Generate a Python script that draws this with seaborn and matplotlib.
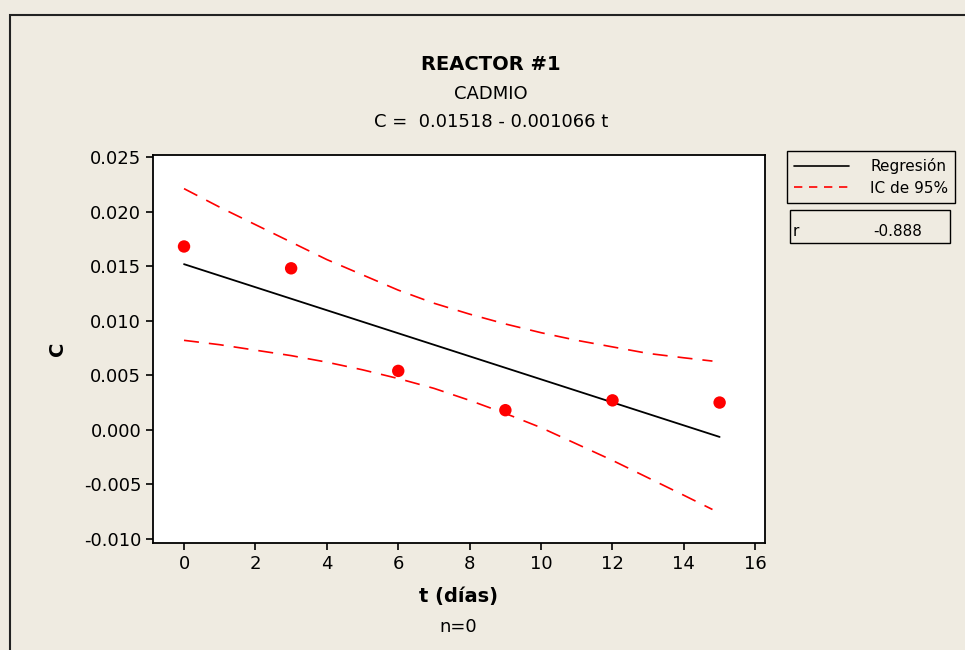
import numpy as np
import pandas as pd
import seaborn as sns
import matplotlib.pyplot as plt
from matplotlib.patches import Rectangle
from matplotlib.lines import Line2D

# datos (Minitab, grafica de linea ajustada)
t_dias = [0, 3, 6, 9, 12, 15]
c_obs = [0.0168, 0.0148, 0.0054, 0.0018, 0.0027, 0.0025]

# recta de regresion y bandas IC 95%
t_fit = [0, 15]
c_fit = [0.01518, -0.00065]
t_ic = [0, 1, 2, 3, 4, 5, 6, 7, 8, 9, 10, 11, 12, 13, 14, 14.8]
ic_sup = [0.0221, 0.0204, 0.0188, 0.0172, 0.0156, 0.0142, 0.0128, 0.0116,
          0.0106, 0.0097, 0.0089, 0.0082, 0.0076, 0.0070, 0.0066, 0.0063]
ic_inf = [0.0082, 0.0078, 0.0073, 0.0068, 0.0062, 0.0055, 0.0047, 0.0038,
          0.0027, 0.0015, 0.0002, -0.0013, -0.0028, -0.0044, -0.0060, -0.0073]

y_ticks = [-0.010, -0.005, 0.000, 0.005, 0.010, 0.015, 0.020, 0.025]
x_ticks = [0, 2, 4, 6, 8, 10, 12, 14, 16]

sns.set_style("ticks")
plt.rcParams['font.family'] = ['DejaVu Sans']
plt.rcParams['text.color'] = 'black'
plt.rcParams['axes.labelcolor'] = 'black'
plt.rcParams['xtick.color'] = 'black'
plt.rcParams['ytick.color'] = 'black'
fondo = '#EFEBE1'

fig = plt.figure(figsize=(9.65, 6.5), dpi=100, facecolor=fondo)
ax = fig.add_axes([0.1585, 0.1646, 0.6342, 0.5969])
ax.set_facecolor('white')

df_obs = pd.DataFrame({'t': t_dias, 'C': c_obs})
df_fit = pd.DataFrame({'t': t_fit, 'C': c_fit})
df_sup = pd.DataFrame({'t': t_ic, 'C': ic_sup})
df_inf = pd.DataFrame({'t': t_ic, 'C': ic_inf})

sns.lineplot(data=df_fit, x='t', y='C', ax=ax, color='black', lw=1.3)
for d in (df_sup, df_inf):
    sns.lineplot(data=d, x='t', y='C', ax=ax, color='red', lw=1.2)
for ln in ax.lines[1:]:
    ln.set_dashes((9, 6))
sns.scatterplot(data=df_obs, x='t', y='C', ax=ax, color='red', s=80,
                edgecolor='none', zorder=5)

ax.set_xlim(-0.87, 16.27)
ax.set_ylim(-0.01037, 0.02518)
ax.set_xticks(x_ticks)
ax.set_yticks(y_ticks)
ax.set_yticklabels([f'{v:.3f}' for v in y_ticks])
ax.tick_params(axis='both', labelsize=13, length=5, width=1.2, color='black')
for s in ax.spines.values():
    s.set_color('black')
    s.set_linewidth(1.3)

ax.set_xlabel('t (días)', fontsize=14, fontweight='bold', labelpad=10)
ax.set_ylabel('C', fontsize=14, fontweight='bold', labelpad=12)
fig.text(0.475, 1 - 627 / 650, 'n=0', fontsize=13, ha='center', va='center')

fig.text(0.509, 1 - 64 / 650, 'REACTOR #1', fontsize=14, fontweight='bold',
         ha='center', va='center')
fig.text(0.509, 1 - 94 / 650, 'CADMIO', fontsize=13, ha='center', va='center')
fig.text(0.509, 1 - 122 / 650, 'C =  0.01518 - 0.001066 t', fontsize=13,
         ha='center', va='center')

# leyenda
handles = [Line2D([], [], color='black', lw=1.2),
           Line2D([], [], color='red', lw=1.2, dashes=(5, 4))]
leg = fig.legend(handles, ['Regresión', 'IC de 95%'], loc='upper left',
                 bbox_to_anchor=(787 / 965, 1 - 151 / 650), fontsize=11,
                 frameon=True, fancybox=False, framealpha=1,
                 facecolor=fondo, edgecolor='black', borderpad=0.45,
                 handlelength=3.6, handletextpad=1.4, labelspacing=0.45,
                 borderaxespad=0)
leg.get_frame().set_linewidth(1.0)

# caja con el coeficiente r
fig.patches.append(Rectangle((790 / 965, 1 - 243 / 650), 160 / 965, 33 / 650,
                             transform=fig.transFigure, fill=False,
                             edgecolor='black', lw=1.0))
fig.text(793 / 965, 1 - 232 / 650, 'r', fontsize=11, ha='left', va='center')
fig.text(922 / 965, 1 - 232 / 650, '-0.888', fontsize=11, ha='right',
         va='center')

# marco exterior
fig.patches.append(Rectangle((10 / 965, -0.1), 1.2, 1.1 - 15 / 650,
                             transform=fig.transFigure, fill=False,
                             edgecolor='#222222', lw=1.5))

fig.savefig('out.png', dpi=100, facecolor=fondo)
